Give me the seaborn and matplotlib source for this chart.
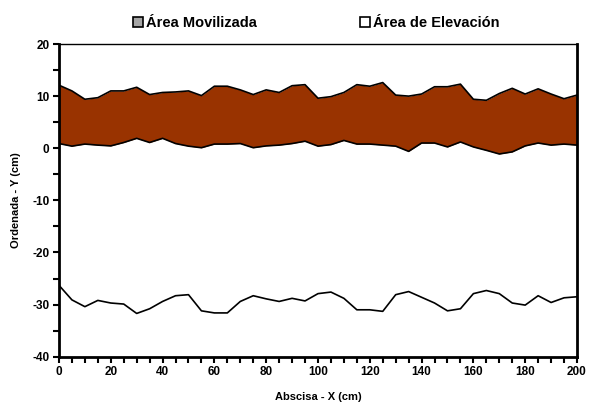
import numpy as np
import pandas as pd
import matplotlib
matplotlib.use("Agg")
import matplotlib.pyplot as plt
from matplotlib.patches import Patch
from matplotlib.ticker import MultipleLocator
import seaborn as sns

# Data
x = list(range(0, 205, 5))
upper = [12.1, 11.0, 9.4, 9.7, 11.0, 11.0, 11.7, 10.3, 10.7, 10.8, 11.0,
         10.1, 11.9, 11.9, 11.2, 10.3, 11.2, 10.7, 12.0, 12.2, 9.6,
         9.9, 10.7, 12.2, 11.9, 12.6, 10.2, 10.0, 10.4, 11.8, 11.8,
         12.3, 9.4, 9.2, 10.5, 11.5, 10.4, 11.4, 10.4, 9.5, 10.2]
lower = [0.9, 0.4, 0.8, 0.6, 0.45, 1.1, 1.9, 1.1, 1.9, 0.9, 0.4,
         0.1, 0.8, 0.8, 0.9, 0.1, 0.45, 0.6, 0.9, 1.35, 0.4,
         0.7, 1.5, 0.8, 0.8, 0.6, 0.4, -0.6, 1.0, 1.0, 0.25,
         1.2, 0.25, -0.4, -1.1, -0.7, 0.45, 1.0, 0.6, 0.8, 0.6]
elevacion = [-26.3, -29.1, -30.4, -29.2, -29.7, -29.9, -31.7, -30.8, -29.4, -28.3, -28.1,
             -31.2, -31.6, -31.6, -29.4, -28.3, -28.9, -29.4, -28.8, -29.3, -27.9,
             -27.6, -28.8, -31.0, -31.0, -31.3, -28.1, -27.5, -28.6, -29.7, -31.2,
             -30.8, -27.9, -27.3, -27.9, -29.7, -30.1, -28.3, -29.6, -28.7, -28.5]
legend_labels = ["Área Movilizada", "Área de Elevación"]

df = pd.DataFrame({"x": x, "upper": upper, "lower": lower, "elev": elevacion})

sns.set_theme(style="white")
plt.rcParams['font.family'] = ['Liberation Sans', 'DejaVu Sans']
plt.rcParams['font.weight'] = 'bold'
plt.rcParams['axes.unicode_minus'] = False
for key in ['text.color', 'axes.labelcolor', 'xtick.color', 'ytick.color']:
    plt.rcParams[key] = 'black'

fig = plt.figure(figsize=(5.91, 4.03), dpi=100)
ax = fig.add_axes([0.0998, 0.1149, 0.8765, 0.7759])

brown = "#993300"
ax.fill_between(df["x"], df["lower"], df["upper"], color=brown, linewidth=0, zorder=1)
ax.fill_between(df["x"], -40, df["elev"], color="white", linewidth=0, zorder=1)
sns.lineplot(data=df, x="x", y="upper", ax=ax, color="black", linewidth=1.2, zorder=3)
sns.lineplot(data=df, x="x", y="lower", ax=ax, color="black", linewidth=1.2, zorder=3)
sns.lineplot(data=df, x="x", y="elev", ax=ax, color="black", linewidth=1.2, zorder=3)

ax.set_xlim(0, 200)
ax.set_ylim(-40, 20)
ax.xaxis.set_major_locator(MultipleLocator(20))
ax.xaxis.set_minor_locator(MultipleLocator(5))
ax.yaxis.set_major_locator(MultipleLocator(10))
ax.yaxis.set_minor_locator(MultipleLocator(5))
ax.tick_params(axis='both', which='both', direction='out', color='black', width=1.5,
               labelsize=8.5, pad=3, labelcolor='black')
ax.tick_params(axis='both', which='major', length=4)
ax.tick_params(axis='both', which='minor', length=4)
ax.tick_params(left=True, bottom=True)
ax.tick_params(which='minor', left=True, bottom=True)
for lab in ax.get_xticklabels() + ax.get_yticklabels():
    lab.set_fontweight('bold')

for side in ['left', 'bottom', 'right']:
    ax.spines[side].set_linewidth(2.0)
    ax.spines[side].set_color('black')
ax.spines['top'].set_linewidth(1.0)
ax.spines['top'].set_color('black')

ax.set_xlabel("Abscisa - X (cm)", fontsize=8, fontweight='bold', labelpad=10, color='black')
ax.set_ylabel("Ordenada - Y (cm)", fontsize=8, fontweight='bold', labelpad=8, color='black')

handles = [Patch(facecolor="#a6a6a6", edgecolor="black", linewidth=1.2),
           Patch(facecolor="white", edgecolor="black", linewidth=1.2)]
fig.legend(handles, legend_labels, loc='center', bbox_to_anchor=(0.535, 0.943), ncol=2,
           frameon=False, handlelength=0.65, handleheight=0.65, handletextpad=0.2,
           columnspacing=7.1, prop={'weight': 'bold', 'size': 10.5})

fig.savefig("out.png", dpi=100)
